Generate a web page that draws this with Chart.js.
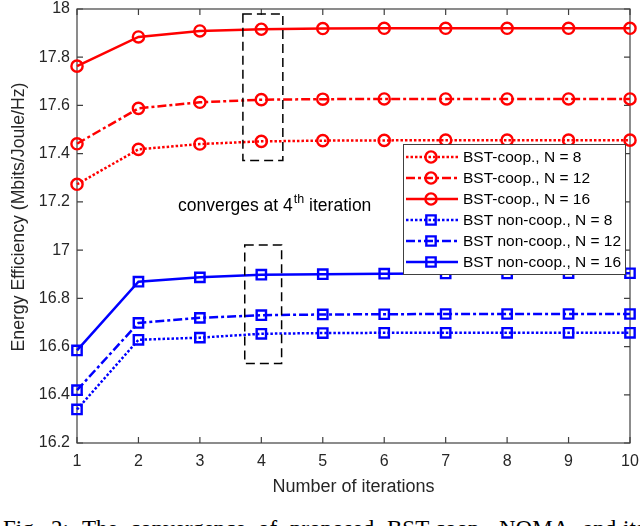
<!DOCTYPE html>
<html>
<head>
<meta charset="utf-8">
<script src="https://cdn.jsdelivr.net/npm/chart.js@4.4.0/dist/chart.umd.min.js"></script>
<style>
html, body { margin: 0; padding: 0; background: #fff; width: 640px; height: 526px; overflow: hidden; }
#wrap { position: absolute; left: 0; top: 0; width: 640px; height: 500px; }
#caption span { position: absolute; top: 517px; font: 23px "Liberation Serif", "Times New Roman", serif;
  white-space: nowrap; color: #000; line-height: 1; }
</style>
</head>
<body>
<div id="wrap"><canvas id="chart" width="640" height="500"></canvas></div>
<div id="caption"></div>
<script>
// data
const iterations = [1, 2, 3, 4, 5, 6, 7, 8, 9, 10];
const coopN8   = [17.273, 17.418, 17.440, 17.451, 17.454, 17.455, 17.456, 17.456, 17.456, 17.456];
const coopN12  = [17.441, 17.588, 17.613, 17.624, 17.626, 17.627, 17.627, 17.627, 17.627, 17.627];
const coopN16  = [17.763, 17.884, 17.909, 17.916, 17.919, 17.920, 17.920, 17.920, 17.920, 17.920];
const nonN8    = [16.339, 16.628, 16.637, 16.653, 16.656, 16.657, 16.657, 16.657, 16.657, 16.657];
const nonN12   = [16.419, 16.698, 16.719, 16.730, 16.733, 16.734, 16.735, 16.735, 16.735, 16.735];
const nonN16   = [16.584, 16.869, 16.887, 16.898, 16.900, 16.902, 16.903, 16.903, 16.904, 16.904];
const yTicks   = [16.2, 16.4, 16.6, 16.8, 17, 17.2, 17.4, 17.6, 17.8, 18];

// caption under the figure (cut off by the page edge, as in the scan)
const captionWords = ['Fig.', '2:', 'The', 'convergence', 'of', 'proposed', 'BST-coop.', 'NOMA', 'and', 'its'];
const captionLeft  = [3, 51, 82, 130, 258, 290, 387, 499, 583, 623];
const cap = document.getElementById('caption');
captionWords.forEach((w, i) => {
    const s = document.createElement('span');
    s.textContent = w;
    s.style.left = captionLeft[i] + 'px';
    cap.appendChild(s);
});

const RED = '#ff0000', BLUE = '#0000ff', AXIS = '#404040', TXT = '#262626';
const FONT = '"Liberation Sans", Arial, Helvetica, sans-serif';
const DOT = [2.5, 2], DASHDOT = [9, 3, 3, 3];

function series(label, vals, color, dash, shape) {
    return {
        label: label,
        data: iterations.map((x, i) => ({ x: x, y: vals[i] })),
        borderColor: color,
        borderWidth: 2.5,
        borderDash: dash,
        pointStyle: shape,
        pointRadius: shape === 'circle' ? 5.6 : 6.6,
        pointBorderWidth: 2.4,
        pointBorderColor: color,
        pointBackgroundColor: 'rgba(0,0,0,0)',
        tension: 0,
        clip: false
    };
}

// dashed boxes around iteration 4 and the note (data coordinates)
const boxes = [
    { x0: 3.70, x1: 4.35, y0: 17.372, y1: 17.979 },
    { x0: 3.73, x1: 4.33, y0: 16.530, y1: 17.021 }
];

const axesBox = {
    id: 'axesBox',
    beforeDatasetsDraw(chart) {
        const { ctx, chartArea: a, scales: { x, y } } = chart;
        ctx.save();
        ctx.strokeStyle = AXIS;
        ctx.lineWidth = 1.2;
        ctx.strokeRect(a.left, a.top, a.right - a.left, a.bottom - a.top);
        ctx.beginPath();
        iterations.forEach(v => {
            const px = x.getPixelForValue(v);
            ctx.moveTo(px, a.bottom); ctx.lineTo(px, a.bottom - 6);
            ctx.moveTo(px, a.top); ctx.lineTo(px, a.top + 6);
        });
        yTicks.forEach(v => {
            const py = y.getPixelForValue(v);
            ctx.moveTo(a.left, py); ctx.lineTo(a.left + 6, py);
            ctx.moveTo(a.right, py); ctx.lineTo(a.right - 6, py);
        });
        ctx.stroke();
        // y axis title, placed like the original
        ctx.translate(19, 217);
        ctx.rotate(-Math.PI / 2);
        ctx.fillStyle = TXT;
        ctx.font = '17.7px ' + FONT;
        ctx.textAlign = 'center';
        ctx.textBaseline = 'middle';
        ctx.fillText('Energy Efficiency (Mbits/Joule/Hz)', 0, 0);
        ctx.restore();
    }
};

const notes = {
    id: 'notes',
    afterDatasetsDraw(chart) {
        const { ctx, scales: { x, y } } = chart;
        ctx.save();
        ctx.strokeStyle = '#000';
        ctx.lineWidth = 1.5;
        ctx.setLineDash([9, 5]);
        boxes.forEach(b => {
            const l = x.getPixelForValue(b.x0), r = x.getPixelForValue(b.x1);
            const t = y.getPixelForValue(b.y1), btm = y.getPixelForValue(b.y0);
            ctx.strokeRect(l, t, r - l, btm - t);
        });
        ctx.setLineDash([]);
        // "converges at 4th iteration"
        let tx = x.getPixelForValue(2.644), ty = y.getPixelForValue(17.162);
        ctx.fillStyle = '#000';
        ctx.textBaseline = 'alphabetic';
        ctx.textAlign = 'left';
        ctx.font = '17.5px ' + FONT;
        const a = 'converges at 4';
        ctx.fillText(a, tx, ty);
        tx += ctx.measureText(a).width + 1;
        ctx.font = '12.5px ' + FONT;
        ctx.fillText('th', tx, ty - 8);
        tx += ctx.measureText('th').width;
        ctx.font = '17.5px ' + FONT;
        ctx.fillText(' iteration', tx, ty);
        ctx.restore();
    }
};

const boxLegend = {
    id: 'boxLegend',
    afterDraw(chart) {
        const { ctx } = chart;
        const left = 403, top = 144, w = 222, rowH = 21;
        const ds = chart.data.datasets;
        ctx.save();
        ctx.fillStyle = '#fff';
        ctx.fillRect(left, top, w, rowH * ds.length + 4);
        ctx.strokeStyle = AXIS;
        ctx.lineWidth = 1;
        ctx.strokeRect(left + 0.5, top + 0.5, w, rowH * ds.length + 4);
        ds.forEach((d, i) => {
            const cy = top + 13 + i * rowH;
            ctx.strokeStyle = d.borderColor;
            ctx.lineWidth = d.borderWidth;
            ctx.setLineDash(d.borderDash);
            ctx.beginPath();
            ctx.moveTo(left + 3, cy); ctx.lineTo(left + 55, cy);
            ctx.stroke();
            ctx.setLineDash([]);
            ctx.lineWidth = d.pointBorderWidth;
            ctx.fillStyle = 'rgba(0,0,0,0)';
            Chart.helpers.drawPoint(ctx, { pointStyle: d.pointStyle, radius: d.pointRadius, rotation: 0, borderWidth: d.pointBorderWidth }, left + 28, cy);
            ctx.fillStyle = '#000';
            ctx.font = '15.5px ' + FONT;
            ctx.textBaseline = 'middle';
            ctx.fillText(d.label, left + 60, cy + 1);
        });
        ctx.restore();
    }
};

new Chart(document.getElementById('chart'), {
    type: 'line',
    data: {
        datasets: [
            series('BST-coop., N = 8', coopN8, RED, DOT, 'circle'),
            series('BST-coop., N = 12', coopN12, RED, DASHDOT, 'circle'),
            series('BST-coop., N = 16', coopN16, RED, [], 'circle'),
            series('BST non-coop., N = 8', nonN8, BLUE, DOT, 'rect'),
            series('BST non-coop., N = 12', nonN12, BLUE, DASHDOT, 'rect'),
            series('BST non-coop., N = 16', nonN16, BLUE, [], 'rect')
        ]
    },
    options: {
        responsive: false,
        animation: false,
        layout: { padding: { left: 0, right: 10, top: 7, bottom: 0 } },
        plugins: { legend: { display: false }, tooltip: { enabled: false } },
        scales: {
            x: {
                type: 'linear', min: 1, max: 10,
                grid: { display: false, drawTicks: false },
                border: { display: false },
                afterBuildTicks: s => { s.ticks = iterations.map(v => ({ value: v })); },
                ticks: { color: TXT, font: { family: FONT, size: 16 }, padding: 9, maxRotation: 0 },
                title: { display: true, text: 'Number of iterations', color: TXT,
                         font: { family: FONT, size: 18 }, padding: { top: 0, bottom: 2 } },
                afterFit: s => { s.height = 57; s.paddingLeft = 0; s.paddingRight = 0; }
            },
            y: {
                min: 16.2, max: 18,
                grid: { display: false, drawTicks: false },
                border: { display: false },
                afterBuildTicks: s => { s.ticks = yTicks.map(v => ({ value: v })); },
                ticks: { color: TXT, font: { family: FONT, size: 16 }, padding: 7,
                         callback: v => String(Number(v.toFixed(1))) },
                afterFit: s => { s.width = 77; s.paddingTop = 0; s.paddingBottom = 0; }
            }
        }
    },
    plugins: [axesBox, notes, boxLegend]
});
</script>
</body>
</html>
